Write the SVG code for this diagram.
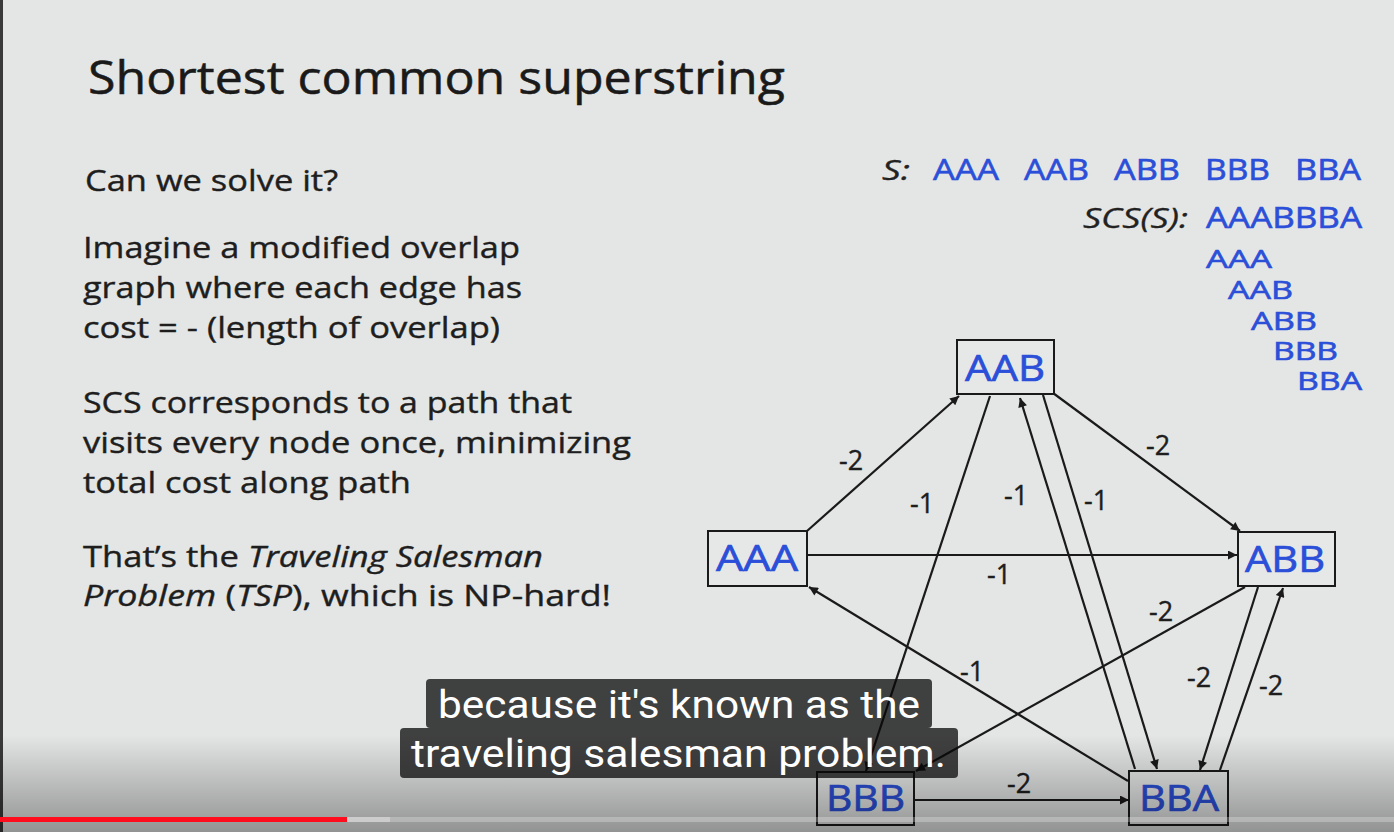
<svg xmlns="http://www.w3.org/2000/svg" width="1394" height="832" viewBox="0 0 1394 832">
  <style>
    .body { font-family: "Open Sans", "Liberation Sans", sans-serif; font-size: 30px; fill: #1e1e1e; stroke: #1e1e1e; stroke-width: 0.4; }
    .blue { font-family: "Open Sans", "Liberation Sans", sans-serif; fill: #2b4fd8; stroke: #2b4fd8; stroke-width: 0.6; }
    .ital { font-family: "Open Sans", "Liberation Sans", sans-serif; font-style: italic; fill: #222; stroke: #222; stroke-width: 0.3; }
    .node rect { fill: #e6e8e7; stroke: #1a1a1a; stroke-width: 2; }
    .node text { font-family: "Open Sans", "Liberation Sans", sans-serif; font-size: 37px; fill: #2b4fd8; stroke: #2b4fd8; stroke-width: 0.7; }
    .edge { stroke: #1a1a1a; stroke-width: 2.2; fill: none; }
    .arr { marker-end: url(#ah); }
    .lbl { font-family: "Open Sans", "Liberation Sans", sans-serif; font-size: 27px; fill: #1e1e1e; stroke: #1e1e1e; stroke-width: 0.4; }
    .sub { font-family: Roboto, "Liberation Sans", sans-serif; font-size: 38px; fill: #ffffff; }
    .subbox { fill: #080808; fill-opacity: 0.75; }
  </style>
  <defs>
    <marker id="ah" viewBox="0 0 10 10" refX="10" refY="5" markerWidth="12" markerHeight="9" markerUnits="userSpaceOnUse" orient="auto">
      <path d="M0,0 L10,5 L0,10 z" fill="#1a1a1a"/>
    </marker>
    <linearGradient id="shade" x1="0" y1="0" x2="0" y2="1">
      <stop offset="0" stop-color="#000" stop-opacity="0"/>
      <stop offset="1" stop-color="#000" stop-opacity="0.36"/>
    </linearGradient>
  </defs>

  <rect x="0" y="0" width="1394" height="832" fill="#e4e6e5"/>
  <rect x="0" y="0" width="3" height="832" fill="#3a3a3a"/>

  <!-- Title -->
  <text x="88" y="94" font-family="'Open Sans', 'Liberation Sans', sans-serif" font-size="45" fill="#1a1a1a" stroke="#1a1a1a" stroke-width="0.5" textLength="697" lengthAdjust="spacingAndGlyphs">Shortest common superstring</text>

  <!-- Left body text -->
  <text class="body" x="85" y="191" textLength="253" lengthAdjust="spacingAndGlyphs">Can we solve it?</text>
  <text class="body" x="83" y="258" textLength="437" lengthAdjust="spacingAndGlyphs">Imagine a modified overlap</text>
  <text class="body" x="83" y="298" textLength="439" lengthAdjust="spacingAndGlyphs">graph where each edge has</text>
  <text class="body" x="83" y="338" textLength="417" lengthAdjust="spacingAndGlyphs">cost = - (length of overlap)</text>
  <text class="body" x="83" y="413" textLength="489" lengthAdjust="spacingAndGlyphs">SCS corresponds to a path that</text>
  <text class="body" x="83" y="453" textLength="548" lengthAdjust="spacingAndGlyphs">visits every node once, minimizing</text>
  <text class="body" x="83" y="493" textLength="328" lengthAdjust="spacingAndGlyphs">total cost along path</text>
  <text class="body" x="83" y="567" textLength="460" lengthAdjust="spacingAndGlyphs">That’s the <tspan font-style="italic">Traveling Salesman</tspan></text>
  <text class="body" x="83" y="606" textLength="528" lengthAdjust="spacingAndGlyphs"><tspan font-style="italic">Problem</tspan> (<tspan font-style="italic">TSP</tspan>), which is NP-hard!</text>

  <!-- Top-right strings -->
  <text class="ital" x="882" y="180" font-size="28" textLength="28" lengthAdjust="spacingAndGlyphs">S:</text>
  <g class="blue" font-size="29">
    <text x="933" y="180" textLength="66" lengthAdjust="spacingAndGlyphs">AAA</text>
    <text x="1024" y="180" textLength="65" lengthAdjust="spacingAndGlyphs">AAB</text>
    <text x="1114" y="180" textLength="66" lengthAdjust="spacingAndGlyphs">ABB</text>
    <text x="1205" y="180" textLength="65" lengthAdjust="spacingAndGlyphs">BBB</text>
    <text x="1295" y="180" textLength="66" lengthAdjust="spacingAndGlyphs">BBA</text>
  </g>
  <text class="ital" x="1083" y="228" font-size="28" textLength="105" lengthAdjust="spacingAndGlyphs">SCS(S):</text>
  <g class="blue" font-size="29">
    <text x="1206" y="228" textLength="156" lengthAdjust="spacingAndGlyphs">AAABBBA</text>
  </g>
  <g class="blue" font-size="25">
    <text x="1206" y="268" textLength="66" lengthAdjust="spacingAndGlyphs">AAA</text>
    <text x="1228" y="299" textLength="65" lengthAdjust="spacingAndGlyphs">AAB</text>
    <text x="1251" y="330" textLength="66" lengthAdjust="spacingAndGlyphs">ABB</text>
    <text x="1273" y="360" textLength="65" lengthAdjust="spacingAndGlyphs">BBB</text>
    <text x="1297" y="390" textLength="65" lengthAdjust="spacingAndGlyphs">BBA</text>
  </g>

  <!-- Connectors -->
  <g id="connectors">
    <line class="edge arr" x1="807" y1="531" x2="959" y2="396"/>
    <line class="edge arr" x1="807" y1="555" x2="1237" y2="555"/>
    <line class="edge arr" x1="1053" y1="393" x2="1240" y2="531"/>
    <line class="edge arr" x1="990" y1="396" x2="866" y2="771"/>
    <line class="edge arr" x1="1245" y1="587" x2="916" y2="771"/>
    <line class="edge arr" x1="1128" y1="781" x2="809" y2="587"/>
    <line class="edge arr" x1="1135" y1="769" x2="1020" y2="398"/>
    <line class="edge arr" x1="1043" y1="395" x2="1157" y2="769"/>
    <line class="edge arr" x1="1258" y1="587" x2="1200" y2="770"/>
    <line class="edge arr" x1="1220" y1="770" x2="1283" y2="588"/>
    <line class="edge arr" x1="914" y1="800" x2="1129" y2="800"/>
    <g class="lbl">
      <text x="839" y="470">-2</text>
      <text x="910" y="513">-1</text>
      <text x="1004" y="505">-1</text>
      <text x="1084" y="510">-1</text>
      <text x="1146" y="455">-2</text>
      <text x="987" y="584">-1</text>
      <text x="1149" y="621">-2</text>
      <text x="960" y="681">-1</text>
      <text x="1187" y="687">-2</text>
      <text x="1259" y="695">-2</text>
      <text x="1007" y="793">-2</text>
    </g>
  </g>

  <!-- Nodes -->
  <g id="node-AAB" class="node">
    <rect x="957" y="340" width="97" height="54"/>
    <text x="965" y="381" textLength="80" lengthAdjust="spacingAndGlyphs">AAB</text>
  </g>
  <g id="node-AAA" class="node">
    <rect x="708" y="531" width="99" height="55"/>
    <text x="716" y="571" textLength="82" lengthAdjust="spacingAndGlyphs">AAA</text>
  </g>
  <g id="node-ABB" class="node">
    <rect x="1238" y="532" width="97" height="54"/>
    <text x="1245" y="572" textLength="80" lengthAdjust="spacingAndGlyphs">ABB</text>
  </g>
  <g id="node-BBB" class="node">
    <rect x="817" y="772" width="97" height="53"/>
    <text x="826" y="811" textLength="79" lengthAdjust="spacingAndGlyphs">BBB</text>
  </g>
  <g id="node-BBA" class="node">
    <rect x="1129" y="771" width="99" height="54"/>
    <text x="1139" y="811" textLength="80" lengthAdjust="spacingAndGlyphs">BBA</text>
  </g>

  <!-- Bottom player shading -->
  <rect x="0" y="735" width="1394" height="97" fill="url(#shade)"/>

  <!-- Subtitles -->
  <rect class="subbox" x="426" y="679" width="506" height="49" rx="4"/>
  <rect class="subbox" x="400" y="728" width="558" height="50" rx="4"/>
  <text class="sub" x="438" y="718" textLength="482" lengthAdjust="spacingAndGlyphs">because it's known as the</text>
  <text class="sub" x="411" y="767" textLength="535" lengthAdjust="spacingAndGlyphs">traveling salesman problem.</text>

  <!-- Progress bar -->
  <rect x="0" y="817" width="1394" height="5" fill="#ffffff" fill-opacity="0.25"/>
  <rect x="347" y="817" width="43" height="5" fill="#cccccc"/>
  <rect x="0" y="817" width="347" height="5" fill="#ff0d1d"/>
</svg>
